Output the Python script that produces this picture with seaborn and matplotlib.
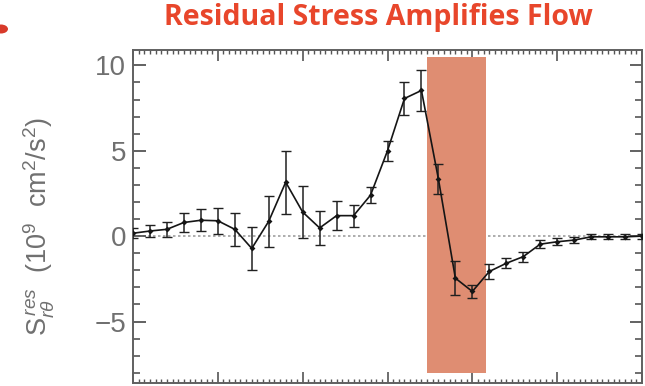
import numpy as np
import pandas as pd
import matplotlib
matplotlib.use("Agg")
import matplotlib.pyplot as plt
from matplotlib.patches import Ellipse
from matplotlib.ticker import MultipleLocator, NullFormatter
import seaborn as sns

# Radial profile of the residual Reynolds stress with its uncertainty
radial_index = list(range(31))
stress_res = [0.17, 0.3, 0.4, 0.8, 0.93, 0.9, 0.4, -0.72, 0.87, 3.16,
              1.41, 0.48, 1.2, 1.2, 2.4, 5.0, 8.06, 8.53, 3.35, -2.46,
              -3.24, -2.07, -1.59, -1.2, -0.47, -0.33, -0.23, -0.04, -0.04,
              -0.04, 0.0]
stress_err = [0.3, 0.35, 0.45, 0.55, 0.65, 0.75, 0.95, 1.25, 1.5, 1.85,
              1.5, 1.0, 0.85, 0.65, 0.45, 0.6, 0.95, 1.2, 0.9, 1.0,
              0.4, 0.45, 0.3, 0.3, 0.25, 0.2, 0.2, 0.15, 0.15, 0.15, 0.15]

# Highlighted shear region
band_x = [17.3, 20.8]
band_y = [-8.0, 10.5]

y_ticks = [-5, 0, 5, 10]
y_tick_labels = ["\u22125", "0", "5", "10"]

title_text = "Residual Stress Amplifies Flow"
ylabel_text = r"S$_{r\theta}^{\,res}$  (10$^{9}$  cm$^{2}$/s$^{2}$)"

sns.set_theme(style="ticks")
plt.rcParams["font.family"] = ["Liberation Sans", "DejaVu Sans"]
plt.rcParams["mathtext.fontset"] = "custom"
plt.rcParams["mathtext.rm"] = "Liberation Sans"
plt.rcParams["mathtext.it"] = "Liberation Sans:italic"

df = pd.DataFrame({"r": radial_index, "s": stress_res, "err": stress_err})

fig = plt.figure(figsize=(6.45, 3.86), dpi=100)
ax = fig.add_axes([133 / 645, 3 / 386, 509 / 645, 333 / 386])

ax.fill_between(band_x, band_y[0], band_y[1], color="#DF8D72", lw=0, zorder=1)
ax.axhline(0, color="#a0a0a0", lw=1.2, ls=(0, (1.5, 1.5)), zorder=0.5)

ax.errorbar(df["r"], df["s"], yerr=df["err"], fmt="none", ecolor="#202020",
            elinewidth=1.1, capsize=3.5, capthick=1.0, zorder=3)
sns.lineplot(data=df, x="r", y="s", ax=ax, color="#151515", lw=1.2,
             marker="D", markersize=3, markeredgewidth=0, zorder=4)

ax.set_xlim(0, 30)
ax.set_ylim(-8.6, 10.9)
ax.xaxis.set_major_locator(MultipleLocator(5))
ax.xaxis.set_minor_locator(MultipleLocator(1 / 3))
ax.xaxis.set_major_formatter(NullFormatter())
ax.yaxis.set_minor_locator(MultipleLocator(1))
ax.set_yticks(y_ticks)
ax.set_yticklabels(y_tick_labels)
ax.tick_params(axis="both", which="both", direction="in", top=True, right=True,
               color="#555555")
ax.tick_params(axis="y", which="major", length=9, width=1.3, labelsize=20,
               labelcolor="#707070", pad=5)
ax.tick_params(axis="y", which="minor", length=5, width=1.2)
ax.tick_params(axis="x", which="major", length=8, width=1.2)
ax.tick_params(axis="x", which="minor", length=3, width=1.0)
for side in ax.spines.values():
    side.set_color("#606060")
    side.set_linewidth(1.4)

ax.set_xlabel("")
ax.set_ylabel(ylabel_text, fontsize=19.5, color="#707070")
ax.yaxis.set_label_coords(-76 / 509, 0.47)

fig.text(378 / 645, 1 - 18 / 386, title_text, ha="center", va="center",
         fontsize=20.5, fontweight="bold", color="#E8462B",
         family=["Open Sans", "DejaVu Sans"])

# Red bullet peeking in at the top-left corner
fig.patches.append(Ellipse((1 / 645, 1 - 29 / 386), 14 / 645, 9 / 386,
                           transform=fig.transFigure, color="#D83A2A",
                           lw=0, figure=fig))

fig.savefig("out.png", dpi=100)
